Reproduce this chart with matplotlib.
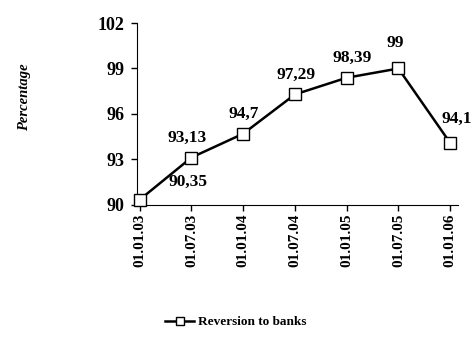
import matplotlib.pyplot as plt

# Data
dates = ['01.01.03', '01.07.03', '01.01.04', '01.07.04', '01.01.05', '01.07.05', '01.01.06']
reversion = [90.35, 93.13, 94.7, 97.29, 98.39, 99, 94.1]
y_ticks = [90, 93, 96, 99, 102]

plt.rcParams.update({
    'font.family': 'Liberation Serif',
    'font.weight': 'bold',
    'font.size': 12,
})

fig = plt.figure(figsize=(4.73, 3.54), dpi=100)
ax = fig.add_axes([0.29, 0.421, 0.678, 0.514])

x_pos = list(range(len(dates)))
ax.plot(x_pos, reversion, color='black', linewidth=1.8, marker='s',
        markersize=8.5, markerfacecolor='white', markeredgecolor='black',
        markeredgewidth=1.0, label='Reversion to banks', clip_on=False, zorder=3)

# value labels (offsets in points)
offsets = [(35, 13), (-3, 14), (0, 14), (1, 14), (4, 14), (-2, 18), (5, 17)]
for x, v, off in zip(x_pos, reversion, offsets):
    ax.annotate(f'{v:g}'.replace('.', ','), (x, v), xytext=off,
                textcoords='offset points', ha='center', va='center',
                fontsize=12.5, fontweight='bold')

ax.set_xlim(-0.05, 6.15)
ax.set_ylim(90, 102)
ax.set_yticks(y_ticks)
ax.set_xticks(x_pos)
ax.set_xticklabels(dates, rotation=90)
ax.tick_params(axis='y', direction='out', length=4, width=1, pad=5, labelsize=13)
ax.tick_params(axis='x', direction='out', length=4, width=1, pad=2, labelsize=11)

ax.spines['top'].set_visible(False)
ax.spines['right'].set_visible(False)

fig.text(25 / 473, 1 - 97 / 354, 'Percentage', rotation=90, ha='center',
         va='center', fontsize=10.5, fontweight='bold', style='italic')

fig.legend(loc='center', bbox_to_anchor=(236 / 473, 1 - 322 / 354),
           frameon=False, handlelength=2.2, handletextpad=0.3, markerscale=0.75,
           prop={'weight': 'bold', 'size': 9.5})

fig.savefig('out.png', dpi=100)
